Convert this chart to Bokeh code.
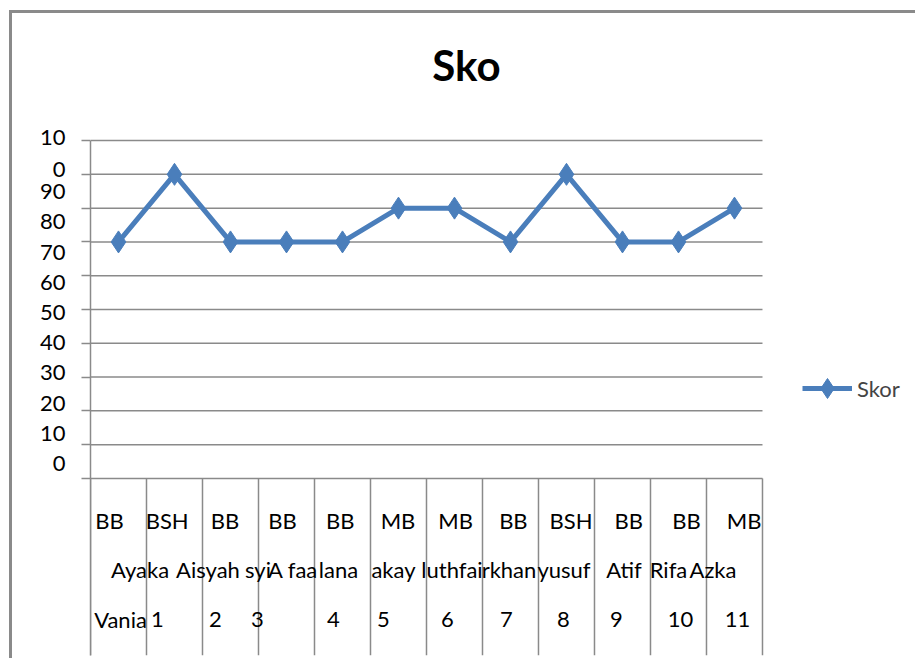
from bokeh.plotting import figure
from bokeh.models import (Range1d, LinearAxis, FixedTicker, ColumnDataSource,
                          LabelSet, Label, Legend, LegendItem)
from bokeh.core.properties import value
from bokeh.embed import file_html
from bokeh.resources import INLINE

# ---------------- data ----------------
title_text = "Sko"
series_name = "Skor"
grades = ["BB", "BSH", "BB", "BB", "BB", "MB", "MB", "BB", "BSH", "BB", "BB", "MB"]
names = ["Ayaka", "Aisyah", "syi", "A faa", "lana", "akay", "luthfai", "rkhan", "yusuf", "Atif", "Rifa", "Azka"]
numbers = ["Vania", "1", "2", "3", "4", "5", "6", "7", "8", "9", "10", "11"]
scores = [70, 90, 70, 70, 70, 80, 80, 70, 90, 70, 70, 80]
y_ticks = [0, 10, 20, 30, 40, 50, 60, 70, 80, 90, 100]
y_tick_label_100 = "10\n0"

# label nudges (px) reproducing the uneven placement of the original category labels
names_nudge = [21.5, 33.5, 27.5, 6.5, -4, -5, -2.5, -1.5, -2.5, 1.5, -10, -21.5]
numbers_nudge = [2, -17, -15, -29, -9, -15, -7, -4, -3, -6, 2, 3]

FONT = "Lato"
FS = "22px"
GRID = "#8a8a8a"
BLUE = "#4a7ebb"
n = len(names)
slot = [i + 0.5 for i in range(n)]      # category slot centres on the 0..n category scale
edges = list(range(n + 1))              # category slot boundaries
Y_BOTTOM, Y_TOP = -52.4, 137.6          # value scale extended below 0 (labels) and above 100 (title)
X_RIGHT = 14.786                        # category scale extended right for the legend area
row_y = [-12.4, -27.0, -41.8]           # label rows, in value units below the axis
TOP_LABEL_AT = 102.6                    # the wrapped "100" label sits a little higher, as in the original

p = figure(width=906, height=648, x_range=Range1d(0, X_RIGHT), y_range=Range1d(Y_BOTTOM, Y_TOP),
           x_axis_location=None, y_axis_location=None, output_backend="svg", toolbar_location=None,
           min_border_left=78, min_border_top=0, min_border_right=0, min_border_bottom=6)
p.outline_line_color = None
p.background_fill_color = "white"
p.border_fill_color = "white"
p.styles = {"margin-left": "9px", "margin-top": "10px",
            "border-left": "3px solid #8a8a8a", "border-top": "3px solid #8a8a8a"}
p.xgrid.visible = False
p.ygrid.visible = False

# extra ranges for the (unevenly spaced) labels
p.extra_x_ranges = {"lab": Range1d(-0.329, -0.329 + X_RIGHT * 56 / 57.7)}
p.extra_y_ranges = {"ylab": Range1d(-63.9, 148.7)}

# title
p.add_layout(Label(x=6.714, y=122.4, text=title_text, text_align="center", text_baseline="middle",
                   text_font=FONT, text_font_style="bold", text_font_size="42px",
                   text_color="black"))

# horizontal gridlines across the category slots
p.segment(x0=[0] * len(y_ticks), y0=y_ticks, x1=[n] * len(y_ticks), y1=y_ticks,
          line_color=GRID, line_width=1.5)
# category boundaries below the axis
p.segment(x0=edges, y0=[0] * (n + 1), x1=edges, y1=[Y_BOTTOM] * (n + 1),
          line_color=GRID, line_width=1.5)

# y axis: line + tick marks
ax_y = LinearAxis(ticker=FixedTicker(ticks=[], minor_ticks=y_ticks), bounds=(Y_BOTTOM, 100),
                  minor_tick_out=9, minor_tick_in=0, major_tick_out=0, major_tick_in=0,
                  axis_line_color=GRID, axis_line_width=1.5, minor_tick_line_color=GRID,
                  minor_tick_line_width=1.5, major_tick_line_color=None, major_label_standoff=0)
p.add_layout(ax_y, "left")
# y axis labels
label_ticks = y_ticks[:-1] + [TOP_LABEL_AT]
ax_ylab = LinearAxis(y_range_name="ylab", ticker=FixedTicker(ticks=label_ticks),
                     major_label_overrides={TOP_LABEL_AT: y_tick_label_100},
                     axis_line_color=None, major_tick_line_color=None, minor_tick_line_color=None,
                     major_tick_out=0, major_tick_in=0, major_label_standoff=16,
                     major_label_text_font=FONT, major_label_text_font_size=FS,
                     major_label_text_color="black")
p.add_layout(ax_ylab, "left")

# three rows of category labels
src = ColumnDataSource(dict(slot=slot, idx=list(range(n)), grades=grades, names=names,
                            numbers=numbers, nn=names_nudge, nb=numbers_nudge,
                            r1=[row_y[0]] * n, r2=[row_y[1]] * n, r3=[row_y[2]] * n))
common = dict(source=src, text_align="center", text_baseline="middle",
              text_font=value(FONT), text_font_size=value(FS), text_color="black")
p.add_layout(LabelSet(x="idx", y="r1", text="grades", x_range_name="lab", **common))
p.add_layout(LabelSet(x="slot", y="r2", text="names", x_offset="nn", **common))
p.add_layout(LabelSet(x="slot", y="r3", text="numbers", x_offset="nb", **common))

# series
line_r = p.line(x=slot, y=scores, line_color=BLUE, line_width=5)
sc_r = p.scatter(x=slot, y=scores, marker="diamond", size=22, fill_color=BLUE,
                 line_color=BLUE, line_width=1)

legend = Legend(items=[LegendItem(label=series_name, renderers=[line_r, sc_r])],
                location=(712, 242), glyph_width=50, glyph_height=50, label_standoff=5,
                padding=0, margin=0, spacing=0, border_line_color=None,
                background_fill_alpha=0, label_text_font=FONT, label_text_font_size=FS)
p.add_layout(legend, "center")

open("out.html", "w").write(file_html(p, INLINE))
